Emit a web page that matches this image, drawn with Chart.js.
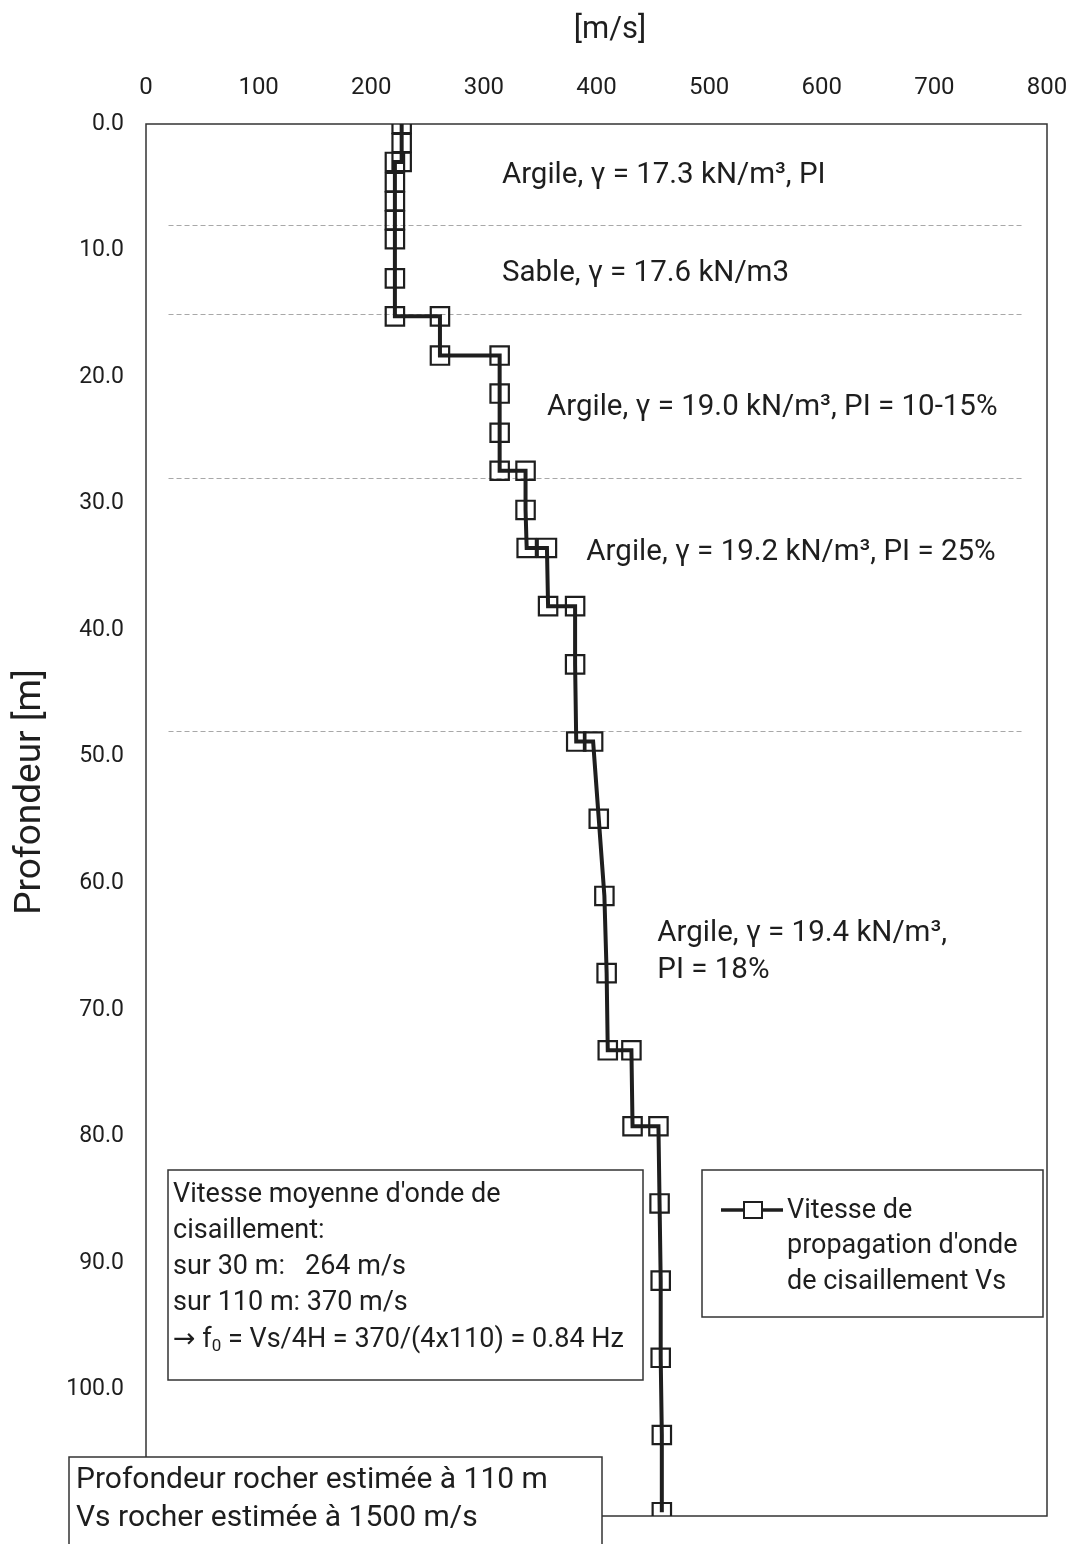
<!DOCTYPE html>
<html>
<head>
<meta charset="utf-8">
<script src="https://cdn.jsdelivr.net/npm/chart.js@4.4.1/dist/chart.umd.min.js"></script>
<style>
  html, body { margin: 0; padding: 0; background: #fff; }
  #wrap { width: 1075px; height: 1544px; }
</style>
</head>
<body>
<div id="wrap"><canvas id="vsChart" width="1075" height="1544"></canvas></div>
<script>
// profondeur (m) et vitesse Vs (m/s)
const depths = [0, 1.5, 3.0, 3.0, 4.6, 6.1, 7.6, 9.1, 12.2, 15.2, 15.2, 18.3, 18.3, 21.3, 24.4, 27.4, 27.4,
  30.5, 33.5, 33.5, 38.1, 38.1, 42.7, 48.8, 48.8, 54.9, 61.0, 67.1, 73.2, 73.2, 79.2, 79.2,
  85.3, 91.4, 97.5, 103.6, 109.7];
const velocities = [227, 227, 227, 221, 221, 221, 221, 221, 221, 221, 261, 261, 314, 314, 314, 314, 337,
  337, 338, 356, 357, 381, 381, 382, 397, 402, 407, 409, 410, 431, 432, 455,
  456, 457, 457, 458, 458];

const velocityTicks = [0, 100, 200, 300, 400, 500, 600, 700, 800];
const depthTicks = [0, 10, 20, 30, 40, 50, 60, 70, 80, 90, 100, 110];

// limites de couches (m)
const layerDepths = [8, 15, 28, 48];
const layerLabels = [
  ['Argile, γ = 17.3 kN/m³, PI'],
  ['Sable, γ = 17.6 kN/m3'],
  ['Argile, γ = 19.0 kN/m³, PI = 10-15%'],
  ['Argile, γ = 19.2 kN/m³, PI = 25%'],
  ['Argile, γ = 19.4 kN/m³,', 'PI = 18%']
];

const seriesName = ['Vitesse de', "propagation d'onde", 'de cisaillement Vs'];
const meanBox = ["Vitesse moyenne d'onde de", 'cisaillement:', 'sur 30 m:   264 m/s', 'sur 110 m: 370 m/s'];
const rockBox = ['Profondeur rocher estimée à 110 m', 'Vs rocher estimée à 1500 m/s'];

const FONT = "Roboto, 'DejaVu Sans', sans-serif";
const INK = '#1e1e1e';

function text(ctx, str, x, y, size, align) {
    ctx.font = size + 'px ' + FONT;
    ctx.fillStyle = INK;
    ctx.textAlign = align || 'left';
    ctx.textBaseline = 'middle';
    ctx.fillText(str, x, y);
    return ctx.measureText(str).width;
}

function box(ctx, x1, y1, x2, y2) {
    ctx.fillStyle = '#fff';
    ctx.fillRect(x1, y1, x2 - x1, y2 - y1);
    ctx.strokeStyle = '#333';
    ctx.lineWidth = 1.5;
    ctx.strokeRect(x1, y1, x2 - x1, y2 - y1);
}

const decorPlugin = {
    id: 'decor',
    beforeDatasetsDraw(chart) {
        const ctx = chart.ctx;
        const xs = chart.scales.x, ys = chart.scales.y;
        const a = chart.chartArea;

        // lignes de séparation des couches
        ctx.save();
        ctx.strokeStyle = '#a8a8a8';
        ctx.lineWidth = 1;
        ctx.setLineDash([5, 3]);
        layerDepths.forEach(d => {
            const y = Math.round(ys.getPixelForValue(d)) + 0.5;
            ctx.beginPath();
            ctx.moveTo(xs.getPixelForValue(20), y);
            ctx.lineTo(xs.getPixelForValue(780), y);
            ctx.stroke();
        });
        ctx.restore();

        // cadre
        ctx.save();
        ctx.strokeStyle = '#333';
        ctx.lineWidth = 1.5;
        ctx.strokeRect(a.left, a.top, a.right - a.left, a.bottom - a.top);
        ctx.restore();
    },
    afterDraw(chart) {
        const ctx = chart.ctx;
        const xs = chart.scales.x, ys = chart.scales.y;
        ctx.save();

        // titres d'axes
        text(ctx, '[m/s]', 610, 30, 31, 'center');
        ctx.save();
        ctx.translate(31, 792);
        ctx.rotate(-Math.PI / 2);
        text(ctx, 'Profondeur [m]', 0, 0, 37, 'center');
        ctx.restore();

        // descriptions des couches
        const spots = [[316, 4.1], [316, 11.8], [356, 22.4], [391, 33.9], [454, 64.0]];
        layerLabels.forEach((lines, i) => {
            const x = xs.getPixelForValue(spots[i][0]);
            const y = ys.getPixelForValue(spots[i][1]);
            lines.forEach((s, k) => text(ctx, s, x, y + k * 37, 29.5));
        });

        // encadré vitesse moyenne
        box(ctx, 168, 1170, 643, 1380);
        meanBox.forEach((s, k) => text(ctx, s, 173, 1195 + k * 36.2, 27));
        // dernière ligne avec indice
        let lx = 173;
        const ly = 1195 + 4 * 36.2;
        lx += text(ctx, '→ f', lx, ly, 27);
        lx += text(ctx, '0', lx, ly + 7, 17);
        text(ctx, ' = Vs/4H = 370/(4x110) = 0.84 Hz', lx, ly, 27);

        // légende
        box(ctx, 702, 1170, 1043, 1317);
        ctx.strokeStyle = INK;
        ctx.lineWidth = 3.5;
        ctx.beginPath();
        ctx.moveTo(721, 1210);
        ctx.lineTo(783, 1210);
        ctx.stroke();
        ctx.lineWidth = 2;
        ctx.fillStyle = '#fff';
        ctx.fillRect(744, 1202, 18, 16);
        ctx.strokeRect(744, 1202, 18, 16);
        seriesName.forEach((s, k) => text(ctx, s, 787, 1211 + k * 35.5, 27));

        // encadré rocher
        box(ctx, 69, 1457, 602, 1560);
        rockBox.forEach((s, k) => text(ctx, s, 76, 1480 + k * 38, 30));

        ctx.restore();
    }
};

new Chart(document.getElementById('vsChart'), {
    type: 'scatter',
    data: {
        datasets: [{
            label: seriesName.join(' '),
            data: depths.map((d, i) => ({ x: velocities[i], y: d })),
            showLine: true,
            borderColor: INK,
            borderWidth: 4,
            pointStyle: 'rect',
            pointRadius: 13,
            pointBorderWidth: 2.2,
            pointBorderColor: INK,
            pointBackgroundColor: 'rgba(255,255,255,0)'
        }]
    },
    options: {
        responsive: false,
        animation: false,
        devicePixelRatio: 1,
        layout: { padding: { top: 0, left: 0, right: 28, bottom: 28 } },
        plugins: {
            legend: { display: false },
            tooltip: { enabled: false }
        },
        scales: {
            x: {
                type: 'linear',
                position: 'top',
                min: 0,
                max: 800,
                afterBuildTicks: s => { s.ticks = velocityTicks.map(v => ({ value: v })); },
                afterFit: s => { s.height = 124; },
                grid: { display: false, drawTicks: true, tickLength: 22 },
                border: { display: false },
                ticks: { font: { family: FONT, size: 24 }, color: INK, padding: 0 }
            },
            y: {
                type: 'linear',
                reverse: true,
                min: 0,
                max: 110,
                afterBuildTicks: s => { s.ticks = depthTicks.map(v => ({ value: v })); },
                afterFit: s => { s.width = 146; },
                grid: { display: false, drawTicks: true, tickLength: 22 },
                border: { display: false },
                ticks: {
                    font: { family: FONT, size: 23 },
                    color: INK,
                    padding: 0,
                    callback: v => (v >= 110 ? '' : v.toFixed(1))
                }
            }
        }
    },
    plugins: [decorPlugin]
});
</script>
</body>
</html>
